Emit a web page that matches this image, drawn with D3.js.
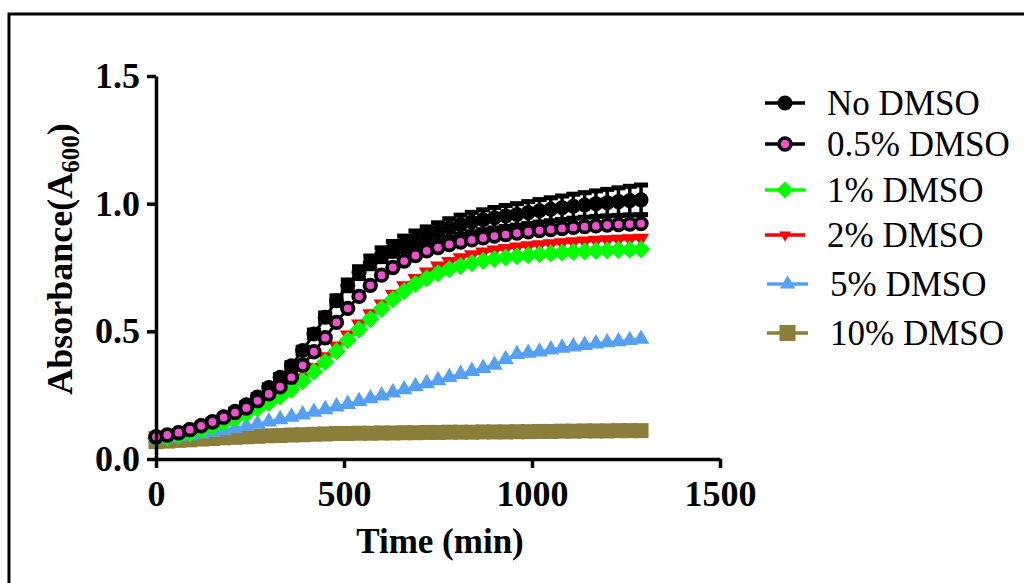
<!DOCTYPE html>
<html><head><meta charset="utf-8">
<script src="https://cdn.jsdelivr.net/npm/d3@7"></script>
<style>
html,body{margin:0;padding:0;background:#fff;}
svg{display:block;}
</style></head>
<body>
<svg id="chart" width="1024" height="583"></svg>
<script>
// ---- data ----
const times = [0,30,60,90,120,150,180,210,240,270,300,330,360,390,420,450,480,510,540,570,600,630,660,690,720,750,780,810,840,870,900,930,960,990,1020,1050,1080,1110,1140,1170,1200,1230,1260,1290];
const noDMSO = [.085,.093,.102,.115,.13,.146,.165,.187,.212,.243,.28,.32,.365,.425,.49,.555,.62,.68,.73,.77,.80,.823,.842,.86,.875,.89,.905,.918,.928,.937,.945,.952,.958,.965,.972,.978,.984,.99,.995,1.0,1.004,1.008,1.012,1.015];
const noDMSOsd = [.005,.005,.005,.006,.006,.007,.007,.008,.008,.009,.01,.011,.012,.013,.015,.017,.019,.021,.023,.025,.027,.029,.031,.033,.034,.035,.036,.037,.038,.039,.04,.041,.042,.043,.044,.045,.046,.047,.048,.05,.052,.054,.056,.058];
const dmso05 = [.087,.094,.103,.115,.13,.145,.163,.182,.20,.228,.255,.283,.32,.367,.42,.475,.535,.59,.637,.68,.72,.75,.775,.797,.815,.828,.84,.85,.858,.866,.873,.879,.885,.89,.895,.899,.903,.907,.91,.913,.916,.918,.92,.922];
const dmso1 = [.08,.085,.092,.10,.113,.127,.142,.158,.177,.198,.22,.245,.272,.305,.342,.38,.422,.465,.507,.548,.588,.625,.657,.685,.708,.727,.743,.756,.767,.776,.783,.789,.794,.798,.802,.805,.808,.811,.813,.815,.817,.819,.82,.821];
const dmso2 = [.09,.094,.10,.108,.118,.13,.145,.162,.18,.202,.226,.253,.283,.318,.358,.40,.442,.485,.528,.568,.607,.645,.678,.707,.732,.755,.773,.788,.80,.81,.818,.824,.83,.835,.839,.843,.847,.85,.853,.856,.858,.86,.862,.864];
const dmso5 = [.08,.083,.087,.092,.098,.105,.112,.12,.128,.137,.146,.155,.165,.174,.184,.194,.205,.215,.226,.237,.248,.26,.272,.284,.296,.308,.32,.332,.344,.356,.368,.39,.41,.415,.42,.428,.435,.44,.446,.452,.456,.46,.465,.47];
const dmso10 = [.068,.07,.073,.075,.078,.08,.083,.085,.087,.089,.091,.092,.094,.095,.097,.098,.10,.10,.101,.101,.102,.102,.103,.103,.104,.104,.105,.105,.105,.106,.106,.106,.107,.107,.108,.108,.109,.109,.11,.11,.11,.111,.111,.111];
const seriesNames = ["No DMSO","0.5% DMSO","1% DMSO","2% DMSO","5% DMSO","10% DMSO"];
const xTicks = [0,500,1000,1500];
const yTicks = [0.0,0.5,1.0,1.5];
const xTitle = "Time (min)";

// ---- layout ----
const svg = d3.select("#chart");
const X0 = 156, X1 = 720, Y0 = 459, Y1 = 76;
const x = d3.scaleLinear().domain([0,1500]).range([X0,X1]);
const y = d3.scaleLinear().domain([0,1.5]).range([Y0,Y1]);
const serif = "'Liberation Serif','Times New Roman',serif";

// outer frame
svg.append("rect").attr("x",9).attr("y",14).attr("width",1100).attr("height",700)
  .attr("fill","none").attr("stroke","#000").attr("stroke-width",3);

const colors = {no:"#000000", p5:"#f050d0", g:"#00ff00", r:"#ff0000", b:"#55a0f5", br:"#8b7d3a"};

const lineGen = d3.line().x(d=>x(d[0])).y(d=>y(d[1]));
function pts(arr){ return times.map((t,i)=>[t,arr[i]]); }

function drawSeries(arr, color, symbolFn){
  const g = svg.append("g");
  g.append("path").datum(pts(arr)).attr("d",lineGen).attr("fill","none")
    .attr("stroke",color).attr("stroke-width",3);
  symbolFn(g, pts(arr));
}

// 10% squares
drawSeries(dmso10, colors.br, (g,p)=>{
  g.selectAll("path.m").data(p).join("path").attr("class","m")
    .attr("d", d3.symbol(d3.symbolSquare, 225)())
    .attr("transform",d=>`translate(${x(d[0])},${y(d[1])})`).attr("fill",colors.br);
});
// 5% up triangles
drawSeries(dmso5, colors.b, (g,p)=>{
  g.selectAll("path.m").data(p).join("path").attr("class","m")
    .attr("d", d3.symbol(d3.symbolTriangle, 120)())
    .attr("transform",d=>`translate(${x(d[0])},${y(d[1])})`).attr("fill",colors.b);
});
// 2% down triangles
drawSeries(dmso2, colors.r, (g,p)=>{
  g.selectAll("path.m").data(p).join("path").attr("class","m")
    .attr("d", d3.symbol(d3.symbolTriangle, 110)())
    .attr("transform",d=>`translate(${x(d[0])},${y(d[1])}) rotate(180)`).attr("fill",colors.r);
});
// 1% diamonds
drawSeries(dmso1, colors.g, (g,p)=>{
  g.selectAll("path.m").data(p).join("path").attr("class","m")
    .attr("d", d3.symbol(d3.symbolSquare, 165)())
    .attr("transform",d=>`translate(${x(d[0])},${y(d[1])}) rotate(45)`).attr("fill",colors.g);
});
// No DMSO with error bars
(function(){
  const g = svg.append("g");
  const p = pts(noDMSO);
  const eb = g.selectAll("g.eb").data(p.map((d,i)=>[d[0],d[1],noDMSOsd[i]])).join("g").attr("class","eb");
  eb.append("line").attr("x1",d=>x(d[0])).attr("x2",d=>x(d[0]))
    .attr("y1",d=>y(d[1]+d[2])).attr("y2",d=>y(d[1]-d[2])).attr("stroke","#000").attr("stroke-width",3.5);
  eb.append("line").attr("x1",d=>x(d[0])-7).attr("x2",d=>x(d[0])+7)
    .attr("y1",d=>y(d[1]+d[2])).attr("y2",d=>y(d[1]+d[2])).attr("stroke","#000").attr("stroke-width",5);
  eb.append("line").attr("x1",d=>x(d[0])-7).attr("x2",d=>x(d[0])+7)
    .attr("y1",d=>y(d[1]-d[2])).attr("y2",d=>y(d[1]-d[2])).attr("stroke","#000").attr("stroke-width",5);
  g.append("path").datum(p).attr("d",lineGen).attr("fill","none").attr("stroke","#000").attr("stroke-width",3);
  g.selectAll("circle").data(p).join("circle").attr("cx",d=>x(d[0])).attr("cy",d=>y(d[1]))
    .attr("r",7.5).attr("fill","#000");
})();
// 0.5% pink circles with black outline
drawSeries(dmso05, "#000", (g,p)=>{
  g.selectAll("circle").data(p).join("circle").attr("cx",d=>x(d[0])).attr("cy",d=>y(d[1]))
    .attr("r",5.8).attr("fill",colors.p5).attr("stroke","#000").attr("stroke-width",3.8);
});

// ---- axes ----
const xAxis = svg.append("g").attr("transform",`translate(0,${Y0})`)
  .call(d3.axisBottom(x).tickValues(xTicks).tickFormat(d3.format("d")).tickSize(9).tickPadding(12).tickSizeOuter(0));
const yAxis = svg.append("g").attr("transform",`translate(${X0},0)`)
  .call(d3.axisLeft(y).tickValues(yTicks).tickFormat(d3.format(".1f")).tickSize(9).tickPadding(7).tickSizeOuter(0));
[xAxis,yAxis].forEach(a=>{
  a.select(".domain").attr("stroke","#000").attr("stroke-width",3.5);
  a.selectAll(".tick line").attr("stroke","#000").attr("stroke-width",3.5);
  a.selectAll(".tick text").attr("fill","#000").style("font-family",serif)
    .style("font-weight","bold").style("font-size","36px");
});

// titles
svg.append("text").attr("x",440).attr("y",553).attr("text-anchor","middle")
  .style("font-family",serif).style("font-weight","bold").style("font-size","35px").text(xTitle);
const yt = svg.append("text").attr("transform","translate(72,259) rotate(-90)").attr("text-anchor","middle")
  .style("font-family",serif).style("font-weight","bold").style("font-size","36px");
yt.append("tspan").text("Absorbance(A");
yt.append("tspan").attr("dy",7).style("font-size","25px").text("600");
yt.append("tspan").attr("dy",-7).text(")");

// ---- legend ----
const legY = [103,144,190,235,284,333];
const leg = svg.append("g");
const legendColors = [colors.no, "#000", colors.g, colors.r, colors.b, colors.br];
seriesNames.forEach((name,i)=>{
  const cy = legY[i];
  const x0 = i>=4 ? 767 : 765, x1 = i>=4 ? 808 : 805, cx = (x0+x1)/2;
  const g = leg.append("g");
  g.append("line").attr("x1",x0).attr("x2",x1).attr("y1",cy).attr("y2",cy)
    .attr("stroke",legendColors[i]).attr("stroke-width",3.5);
  if(i===0) g.append("circle").attr("cx",cx).attr("cy",cy).attr("r",7.5).attr("fill","#000");
  if(i===1) g.append("circle").attr("cx",cx).attr("cy",cy).attr("r",6).attr("fill",colors.p5).attr("stroke","#000").attr("stroke-width",3.5);
  if(i===2) g.append("path").attr("d",d3.symbol(d3.symbolSquare,145)()).attr("transform",`translate(${cx},${cy}) rotate(45)`).attr("fill",colors.g);
  if(i===3) g.append("path").attr("d",d3.symbol(d3.symbolTriangle,60)()).attr("transform",`translate(${cx},${cy}) rotate(180)`).attr("fill",colors.r);
  if(i===4) g.append("path").attr("d",d3.symbol(d3.symbolTriangle,100)()).attr("transform",`translate(${cx},${cy})`).attr("fill",colors.b);
  if(i===5) g.append("path").attr("d",d3.symbol(d3.symbolSquare,256)()).attr("transform",`translate(${cx},${cy})`).attr("fill",colors.br);
  g.append("text").attr("x", i>=4 ? 830 : 827).attr("y",cy+11.5)
    .style("font-family",serif).style("font-size","35px").attr("fill","#000").text(name);
});
</script>
</body></html>
